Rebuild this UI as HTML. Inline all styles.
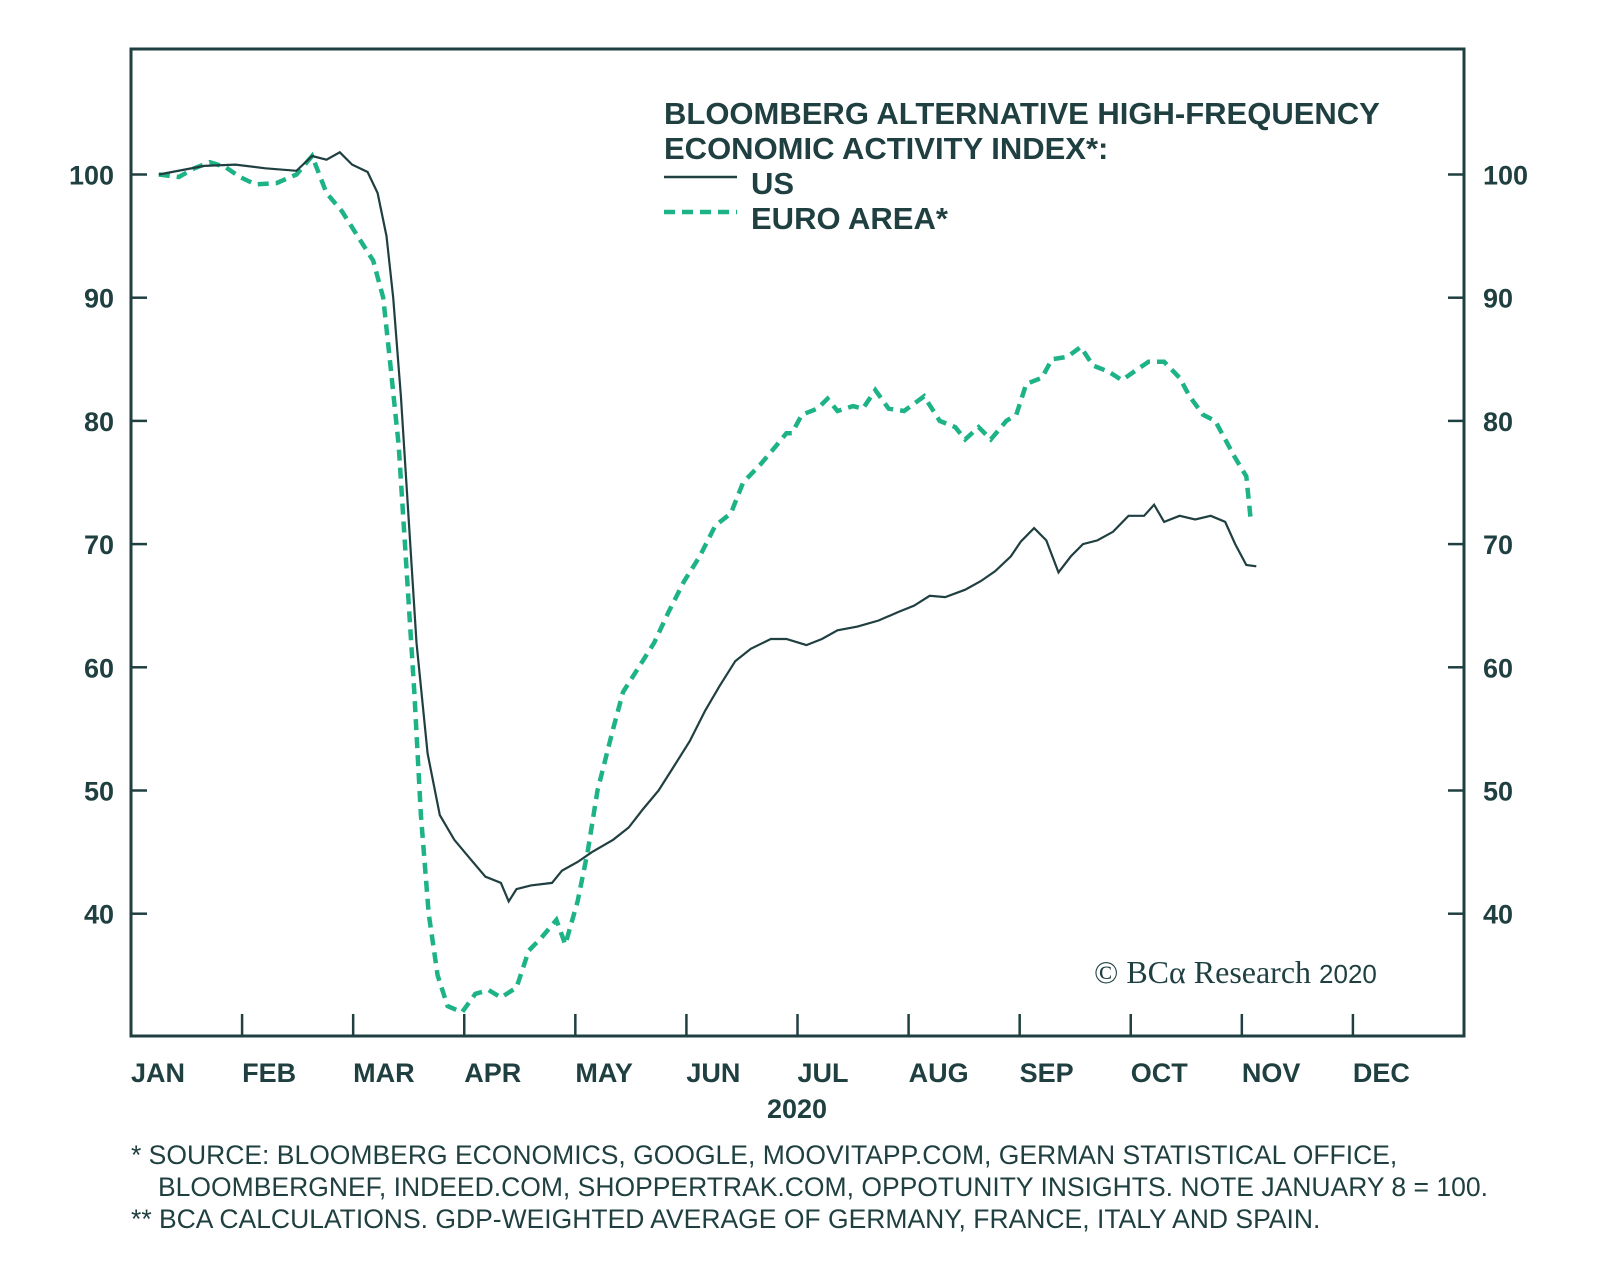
<!DOCTYPE html>
<html><head><meta charset="utf-8"><style>
html,body{margin:0;padding:0;background:#fff;}
svg{display:block;font-family:"Liberation Sans",sans-serif;}
</style></head><body>
<svg id="chart" width="1600" height="1268" viewBox="0 0 1600 1268" xmlns="http://www.w3.org/2000/svg">
<rect x="131" y="49" width="1333" height="987" fill="none" stroke="#1f3f40" stroke-width="3"/>
<g id="axes"></g>
<g id="series"></g>
<g fill="#1f3f40" font-weight="bold" font-size="31">
<text x="664" y="124">BLOOMBERG ALTERNATIVE HIGH-FREQUENCY</text>
<text x="664" y="159">ECONOMIC ACTIVITY INDEX*:</text>
<line x1="664" y1="177" x2="737" y2="177" stroke="#1f3f40" stroke-width="2.5"/>
<text x="751" y="194">US</text>
<line x1="664" y1="212" x2="737" y2="212" stroke="#1db386" stroke-width="4.5" stroke-dasharray="11,7"/>
<text x="751" y="229">EURO AREA*</text>
</g>
<text x="1094" y="983" font-family="Liberation Serif,serif" font-size="32" fill="#1f3f40">© BCα Research <tspan font-family="Liberation Sans,sans-serif" font-size="26">2020</tspan></text>
<text x="797" y="1118" text-anchor="middle" font-size="27" font-weight="bold" fill="#1f3f40">2020</text>
<g font-size="26.5" fill="#1f3f40">
<text x="131" y="1164">*  SOURCE: BLOOMBERG ECONOMICS, GOOGLE, MOOVITAPP.COM, GERMAN STATISTICAL OFFICE,</text>
<text x="158" y="1196">BLOOMBERGNEF, INDEED.COM, SHOPPERTRAK.COM, OPPOTUNITY INSIGHTS. NOTE JANUARY 8 = 100.</text>
<text x="131" y="1228">** BCA CALCULATIONS. GDP-WEIGHTED AVERAGE OF GERMANY, FRANCE, ITALY AND SPAIN.</text>
</g>
</svg>
<script>
const months = ["JAN","FEB","MAR","APR","MAY","JUN","JUL","AUG","SEP","OCT","NOV","DEC"];
const yTicks = [40,50,60,70,80,90,100];
const usX = [0.25,0.66,0.94,1.21,1.49,1.63,1.76,1.88,1.99,2.13,2.22,2.30,2.36,2.43,2.50,2.57,2.67,2.78,2.91,3.05,3.19,3.33,3.40,3.47,3.60,3.79,3.88,4.02,4.15,4.34,4.48,4.61,4.75,4.89,5.03,5.17,5.30,5.44,5.58,5.76,5.90,6.08,6.22,6.36,6.54,6.73,6.91,7.05,7.19,7.33,7.51,7.65,7.78,7.92,8.01,8.13,8.24,8.35,8.46,8.57,8.70,8.84,8.98,9.12,9.21,9.30,9.44,9.58,9.72,9.85,9.94,10.04,10.13];
const usY = [100,100.7,100.8,100.5,100.3,101.5,101.2,101.8,100.8,100.2,98.5,95,90,82,72,62,53,48,46,44.5,43,42.5,41,42,42.3,42.5,43.5,44.2,45,46,47,48.5,50,52,54,56.5,58.5,60.5,61.5,62.3,62.3,61.8,62.3,63,63.3,63.8,64.5,65,65.8,65.7,66.3,67,67.8,69,70.2,71.3,70.3,67.7,69,70,70.3,71,72.3,72.3,73.2,71.8,72.3,72,72.3,71.8,70,68.3,68.2];
const euX = [0.25,0.43,0.57,0.71,0.85,0.98,1.12,1.31,1.49,1.63,1.76,1.90,2.04,2.18,2.27,2.33,2.41,2.48,2.55,2.61,2.68,2.76,2.85,2.98,3.10,3.22,3.33,3.47,3.58,3.69,3.83,3.91,4.02,4.11,4.20,4.34,4.43,4.57,4.71,4.84,4.98,5.12,5.26,5.40,5.51,5.67,5.81,5.90,5.95,6.04,6.18,6.27,6.36,6.50,6.59,6.70,6.82,6.96,7.14,7.28,7.42,7.51,7.63,7.74,7.88,7.97,8.06,8.20,8.29,8.43,8.55,8.66,8.80,8.92,9.03,9.16,9.30,9.44,9.53,9.65,9.76,9.85,9.94,10.04,10.08];
const euY = [100,99.8,100.5,101,100.6,99.8,99.2,99.3,100,101.5,98.5,97,95,93,90,85,78,68,58,48,40,35,32.5,32,33.5,33.8,33.2,34,37,38,39.5,37.5,41,45,50,55,58,60,62,64.5,67,69,71.5,72.5,75,76.5,78,79,79,80.5,81,81.8,80.8,81.2,81,82.5,81,80.8,82,80,79.5,78.5,79.5,78.5,80,80.5,83,83.5,85,85.2,86,84.5,84,83.3,84,84.8,84.8,83.5,82,80.5,80,78.5,77,75.5,72];
const NS="http://www.w3.org/2000/svg";
const L=131,R=1464,T=49,B=1036;
const xs = m => L + m*(R-L)/12;
const ys = v => 174.5 + (100-v)*12.32;
const axes=document.getElementById('axes'), series=document.getElementById('series');
function mk(tag,attrs,parent){const e=document.createElementNS(NS,tag);for(const k in attrs)e.setAttribute(k,attrs[k]);parent.appendChild(e);return e;}
yTicks.forEach(v=>{
  const y=ys(v);
  const t1=mk('line',{x1:L,y1:y,x2:L+16,y2:y,stroke:'#1f3f40','stroke-width':2.5},axes);
  
  
  const t2=mk('line',{x1:R-16,y1:y,x2:R,y2:y,stroke:'#1f3f40','stroke-width':2.5},axes);
  
  
  const a=mk('text',{x:114,y:y+10,'text-anchor':'end','font-size':27,'font-weight':'bold',fill:'#1f3f40'},axes);
  a.textContent=v;
  
  
  const b=mk('text',{x:1483,y:y+10,'font-size':27,'font-weight':'bold',fill:'#1f3f40'},axes);
  b.textContent=v;
  
  
});
months.forEach((m,i)=>{
  const x=xs(i);
  if(i>0){const t=mk('line',{x1:x,y1:B-22,x2:x,y2:B,stroke:'#1f3f40','stroke-width':2.5},axes);
  
  }
  const lb=mk('text',{x:x,y:1082,'font-size':27,'font-weight':'bold',fill:'#1f3f40'},axes);
  lb.textContent=m;
  
  
});
function path(X,Y){return X.map((m,i)=>(i?'L':'M')+xs(m).toFixed(1)+','+ys(Y[i]).toFixed(1)).join('');}
const pe=mk('path',{d:path(euX,euY),fill:'none',stroke:'#1db386','stroke-width':4.5,'stroke-dasharray':'11,7'},series);


const pu=mk('path',{d:path(usX,usY),fill:'none',stroke:'#1f3f40','stroke-width':2.2},series);


</script>
</body></html>
